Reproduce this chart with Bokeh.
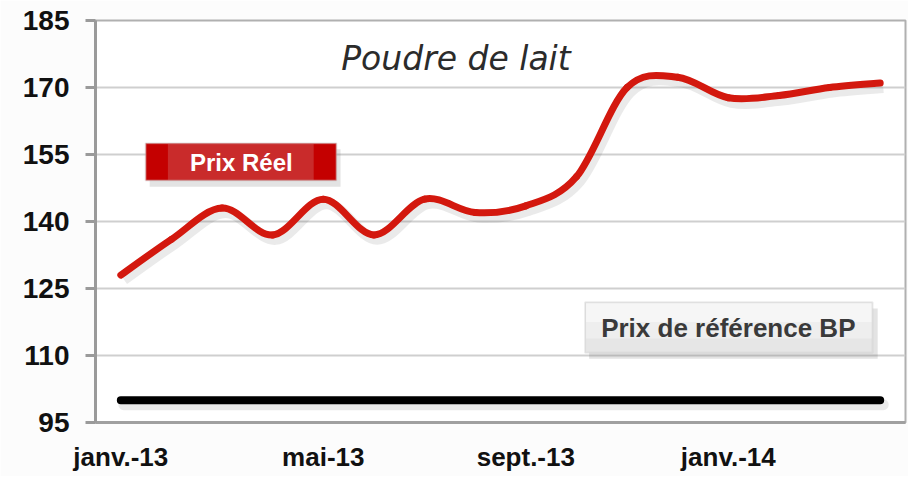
from bokeh.plotting import figure
from bokeh.models import Range1d, FixedTicker, BoxAnnotation, Label
from bokeh.embed import file_html
from bokeh.resources import INLINE

# ---- data ----
months = ["janv.-13", "févr.-13", "mars-13", "avr.-13", "mai-13", "juin-13",
          "juil.-13", "août-13", "sept.-13", "oct.-13", "nov.-13", "déc.-13",
          "janv.-14", "févr.-14", "mars-14", "avr.-14"]
prix_reel = [128, 136, 143, 137, 145, 137, 145, 142, 143.5, 150, 170, 172.3,
             167.7, 168.2, 170, 171]
prix_reference = [100] * 16
y_ticks = [95, 110, 125, 140, 155, 170, 185]
x_tick_idx = [0, 4, 8, 12]

x = list(range(len(months)))

p = figure(width=908, height=476, output_backend="svg", toolbar_location=None,
           x_range=Range1d(-0.5, 15.5), y_range=Range1d(95, 185),
           min_border_left=95, min_border_top=20, min_border_right=3,
           min_border_bottom=54)
p.background_fill_color = "white"
p.border_fill_color = "#fcfcfc"
p.outline_line_color = "#b0b0b0"
p.outline_line_width = 2

# axes
p.yaxis.ticker = FixedTicker(ticks=y_ticks)
p.yaxis.axis_line_color = "#9a9a9a"
p.yaxis.axis_line_width = 3
p.yaxis.major_tick_line_color = "#9a9a9a"
p.yaxis.major_tick_line_width = 3
p.yaxis.major_tick_out = 10
p.yaxis.major_tick_in = 0
p.yaxis.minor_tick_line_color = None
p.yaxis.major_label_text_font = "Liberation Sans"
p.yaxis.major_label_text_font_style = "bold"
p.yaxis.major_label_text_font_size = "28px"
p.yaxis.major_label_text_color = "#111111"
p.yaxis.major_label_standoff = 16

p.xaxis.ticker = FixedTicker(ticks=x_tick_idx)
p.xaxis.major_label_overrides = {i: months[i] for i in x_tick_idx}
p.xaxis.axis_line_color = "#a0a0a0"
p.xaxis.axis_line_width = 3
p.xaxis.major_tick_line_color = None
p.xaxis.major_tick_out = 0
p.xaxis.minor_tick_line_color = None
p.xaxis.major_label_text_font = "Liberation Sans"
p.xaxis.major_label_text_font_style = "bold"
p.xaxis.major_label_text_font_size = "26px"
p.xaxis.major_label_text_color = "#111111"
p.xaxis.major_label_standoff = 19

p.xgrid.grid_line_color = None
p.ygrid.ticker = FixedTicker(ticks=y_ticks)
p.ygrid.grid_line_color = "#cfcfcf"
p.ygrid.grid_line_width = 2

# smooth curve (Catmull-Rom style bezier through the data points)
def bezier_segments(xs, ys):
    n = len(xs)
    x0, y0, x1, y1, cx0, cy0, cx1, cy1 = [], [], [], [], [], [], [], []
    for i in range(n - 1):
        xm, ym = xs[max(i - 1, 0)], ys[max(i - 1, 0)]
        xa, ya = xs[i], ys[i]
        xb, yb = xs[i + 1], ys[i + 1]
        xp, yp = xs[min(i + 2, n - 1)], ys[min(i + 2, n - 1)]
        x0.append(xa); y0.append(ya); x1.append(xb); y1.append(yb)
        cx0.append(xa + (xb - xm) / 6.0); cy0.append(ya + (yb - ym) / 6.0)
        cx1.append(xb - (xp - xa) / 6.0); cy1.append(yb - (yp - ya) / 6.0)
    return dict(x0=x0, y0=y0, x1=x1, y1=y1, cx0=cx0, cy0=cy0, cx1=cx1, cy1=cy1)

seg = bezier_segments(x, prix_reel)
# soft shadow
sh = {k: [v + 0.06 for v in vals] if k.startswith(("x", "cx")) else [v - 1.0 for v in vals]
      for k, vals in seg.items()}
p.bezier(line_color="#555555", line_alpha=0.12, line_width=11, **sh)
p.line([xi + 0.06 for xi in x], [v - 1.0 for v in prix_reference],
       line_color="#555555", line_alpha=0.12, line_width=11, line_cap="round")

p.bezier(line_color="#d3180e", line_width=7, line_cap="round", **seg)
p.line(x, prix_reference, line_color="black", line_width=8, line_cap="round")

# title inside plot
p.add_layout(Label(x=6.62, y=176.5, text="Poudre de lait", text_font="DejaVu Sans",
                   text_font_style="italic", text_font_size="33px",
                   text_color="#2b2b2b", text_align="center",
                   text_baseline="middle"))

# "Prix Réel" box
p.add_layout(BoxAnnotation(left=0.57, right=4.34, top=156.2, bottom=147.8,
                           fill_color="#666666", fill_alpha=0.18, line_color=None))
p.add_layout(BoxAnnotation(left=0.49, right=4.26, top=157.5, bottom=149.2,
                           fill_color="#c92b2b", fill_alpha=1.0,
                           line_color="#c4c4c4", line_width=2))
p.add_layout(BoxAnnotation(left=0.51, right=0.93, top=157.3, bottom=149.4,
                           fill_color="#c40000", fill_alpha=1.0, line_color=None))
p.add_layout(BoxAnnotation(left=3.81, right=4.24, top=157.3, bottom=149.4,
                           fill_color="#c40000", fill_alpha=1.0, line_color=None))
p.add_layout(Label(x=2.38, y=153.3, text="Prix Réel", text_font="Liberation Sans",
                   text_font_style="bold", text_font_size="24px",
                   text_color="white", text_align="center", text_baseline="middle"))

# "Prix de référence BP" box
p.add_layout(BoxAnnotation(left=9.25, right=14.95, top=120.5, bottom=109.3,
                           fill_color="#666666", fill_alpha=0.18, line_color=None))
p.add_layout(BoxAnnotation(left=9.17, right=14.85, top=121.9, bottom=110.6,
                           fill_color="#e6e6e6", fill_alpha=1.0,
                           line_color="#c2c2c2", line_width=2))
p.add_layout(BoxAnnotation(left=9.19, right=14.83, top=121.7, bottom=117.5,
                           fill_color="#f6f6f6", fill_alpha=1.0, line_color=None))
p.add_layout(BoxAnnotation(left=9.19, right=14.83, top=117.5, bottom=113.8,
                           fill_color="#eeeeee", fill_alpha=1.0, line_color=None))
p.add_layout(Label(x=12.0, y=116.1, text="Prix de référence BP",
                   text_font="Liberation Sans", text_font_style="bold",
                   text_font_size="26px", text_color="#3a3a3a",
                   text_align="center", text_baseline="middle"))

open("out.html", "w").write(file_html(p, INLINE))
